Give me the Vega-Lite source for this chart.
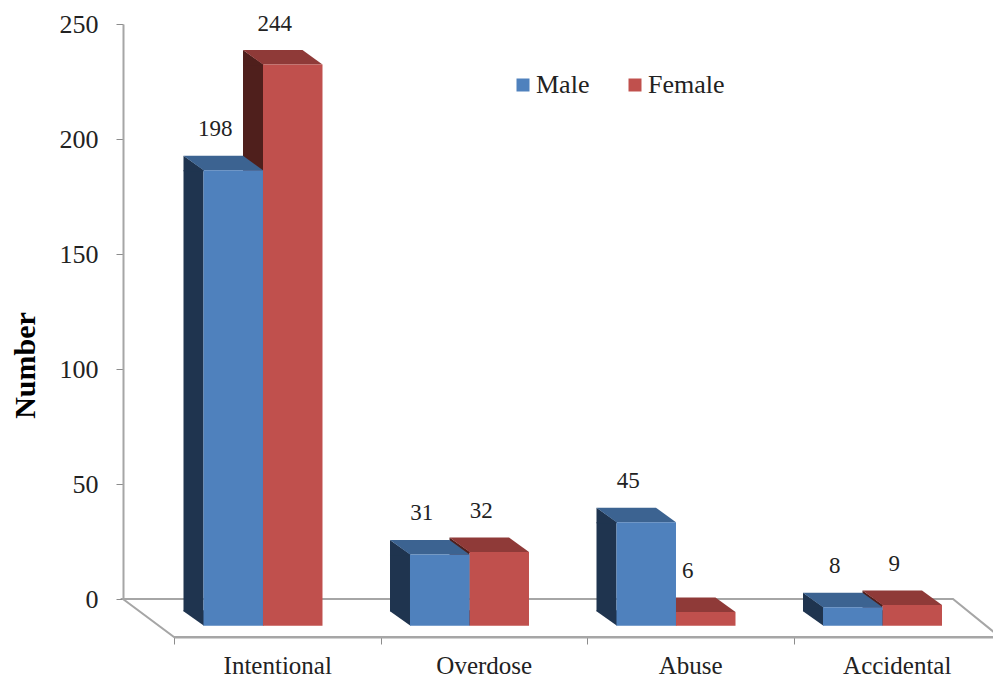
{
  "$schema": "https://vega.github.io/schema/vega-lite/v6.json",
  "width": 819,
  "height": 575,
  "autosize": {"type": "none"},
  "padding": {"left": 174, "top": 24, "right": 0, "bottom": 79},
  "background": "white",
  "config": {
    "view": {"stroke": null},
    "font": "Liberation Serif",
    "text": {"font": "Liberation Serif"}
  },
  "data": {
    "values": [
      {"cause": "Intentional", "sex": "Female", "number": 244},
      {"cause": "Intentional", "sex": "Male", "number": 198},
      {"cause": "Overdose", "sex": "Female", "number": 32},
      {"cause": "Overdose", "sex": "Male", "number": 31},
      {"cause": "Abuse", "sex": "Female", "number": 6},
      {"cause": "Abuse", "sex": "Male", "number": 45},
      {"cause": "Accidental", "sex": "Female", "number": 9},
      {"cause": "Accidental", "sex": "Male", "number": 8}
    ]
  },
  "encoding": {
    "x": {
      "field": "cause",
      "type": "nominal",
      "scale": {
        "domain": ["Intentional", "Overdose", "Abuse", "Accidental"],
        "range": [0, 826],
        "paddingInner": 0,
        "paddingOuter": 0
      },
      "axis": {
        "title": null,
        "offset": 38,
        "tickBand": "extent",
        "labelAngle": 0,
        "labelFontSize": 25,
        "labelFont": "Liberation Serif",
        "labelColor": "#222222",
        "labelPadding": 9,
        "domainColor": "#a6a6a6",
        "domainWidth": 2,
        "tickColor": "#8c8c8c",
        "tickWidth": 1,
        "tickSize": 7
      }
    },
    "xOffset": {
      "field": "sex",
      "type": "nominal",
      "scale": {"domain": ["Male", "Female"], "paddingInner": 0, "paddingOuter": 0.735, "align": 0.337}
    },
    "y": {
      "field": "number",
      "type": "quantitative",
      "stack": null,
      "title": "Number",
      "scale": {"domain": [0, 250], "nice": false},
      "axis": {
        "title": "Number",
        "titleFont": "Liberation Serif",
        "titleFontSize": 30,
        "titleFontWeight": "bold",
        "titleColor": "#000000",
        "titleAngle": -90,
        "titleX": -98,
        "titleY": 341,
        "titleAlign": "center",
        "titleBaseline": "middle",
        "offset": 51,
        "values": [0, 50, 100, 150, 200, 250],
        "grid": false,
        "labelFontSize": 26,
        "labelFont": "Liberation Serif",
        "labelColor": "#222222",
        "labelPadding": 18,
        "domainColor": "#a6a6a6",
        "domainWidth": 2,
        "tickColor": "#8c8c8c",
        "tickWidth": 1,
        "tickSize": 7
      }
    }
  },
  "layer": [
    {
      "description": "Chart floor, drawn in perspective behind the bars",
      "data": {"values": [{"cause": "Intentional", "number": 0}]},
      "mark": {
        "type": "point",
        "shape": "M-51 0 L779 0 L826 38 L0 38 Z",
        "size": 4,
        "filled": true,
        "fill": "white",
        "stroke": "#a6a6a6",
        "strokeWidth": 2,
        "opacity": 1
      },
      "encoding": {
        "xOffset": {"value": 0}
      }
    },
    {
      "description": "Left side of the male bars: the straight middle section",
      "transform": [{"filter": "datum.sex === 'Male'"}],
      "mark": {"type": "bar", "width": 20, "yOffset": 26.7, "y2Offset": 12.2, "color": "#1f344f"},
      "encoding": {
        "xOffset": {"value": 19.5},
        "y2": {"datum": 0}
      }
    },
    {
      "description": "Left side of the female bars: the straight middle section",
      "transform": [{"filter": "datum.sex === 'Female'"}],
      "mark": {"type": "bar", "width": 20, "yOffset": 26.7, "y2Offset": 12.2, "color": "#4f1f1c"},
      "encoding": {
        "xOffset": {"value": 79},
        "y2": {"datum": 0}
      }
    },
    {
      "description": "Left side of each bar: upper wedge, lapped over the middle section to hide the join",
      "mark": {
        "type": "point",
        "shape": "M-29.25 0 L-49.75 -14.5 L-49.75 1 L-29.25 1 Z",
        "size": 4,
        "filled": true,
        "opacity": 1,
        "strokeWidth": 0,
        "yOffset": 26.7
      },
      "encoding": {
        "color": {
          "field": "sex",
          "type": "nominal",
          "legend": null,
          "scale": {"domain": ["Male", "Female"], "range": ["#1f344f", "#4f1f1c"]}
        }
      }
    },
    {
      "description": "Left side of each bar: lower wedge, lapped over the middle section to hide the join",
      "mark": {
        "type": "point",
        "shape": "M-29.25 0 L-29.25 -15.5 L-49.75 -15.5 L-49.75 -14.5 Z",
        "size": 4,
        "filled": true,
        "opacity": 1,
        "strokeWidth": 0,
        "yOffset": 26.7
      },
      "encoding": {
        "y": {"datum": 0, "type": "quantitative", "title": "Number"},
        "color": {
          "field": "sex",
          "type": "nominal",
          "legend": null,
          "scale": {"domain": ["Male", "Female"], "range": ["#1f344f", "#4f1f1c"]}
        }
      }
    },
    {
      "description": "Top face of each bar",
      "mark": {
        "type": "point",
        "shape": "M-29.75 0 L29.75 0 L9.75 -14.5 L-49.75 -14.5 Z",
        "size": 4,
        "filled": true,
        "opacity": 1,
        "strokeWidth": 0,
        "yOffset": 26.7
      },
      "encoding": {
        "color": {
          "field": "sex",
          "type": "nominal",
          "legend": null,
          "scale": {"domain": ["Male", "Female"], "range": ["#3c6391", "#8f3a38"]}
        }
      }
    },
    {
      "description": "Front face of each bar, which also carries the legend",
      "mark": {"type": "bar", "width": 59.5, "yOffset": 26.7, "y2Offset": 26.7},
      "encoding": {
        "y2": {"datum": 0},
        "color": {
          "field": "sex",
          "type": "nominal",
          "scale": {"domain": ["Male", "Female"], "range": ["#4f81bd", "#c0504d"]},
          "legend": {
            "title": null,
            "orient": "none",
            "legendX": 336,
            "legendY": 48,
            "direction": "horizontal",
            "symbolType": "square",
            "symbolSize": 169,
            "symbolStrokeWidth": 0,
            "labelFont": "Liberation Serif",
            "labelFontSize": 26,
            "labelColor": "#222222",
            "labelOffset": 0,
            "columnPadding": 32,
            "labelLimit": 200
          }
        }
      }
    },
    {
      "description": "Value labels above the bars",
      "mark": {
        "type": "text",
        "font": "Liberation Serif",
        "fontSize": 23,
        "color": "#222222",
        "baseline": "middle",
        "align": "center",
        "dx": -18,
        "yOffset": -14.3
      },
      "encoding": {"text": {"field": "number", "type": "quantitative"}}
    }
  ],
  "resolve": {"scale": {"color": "independent"}}
}
